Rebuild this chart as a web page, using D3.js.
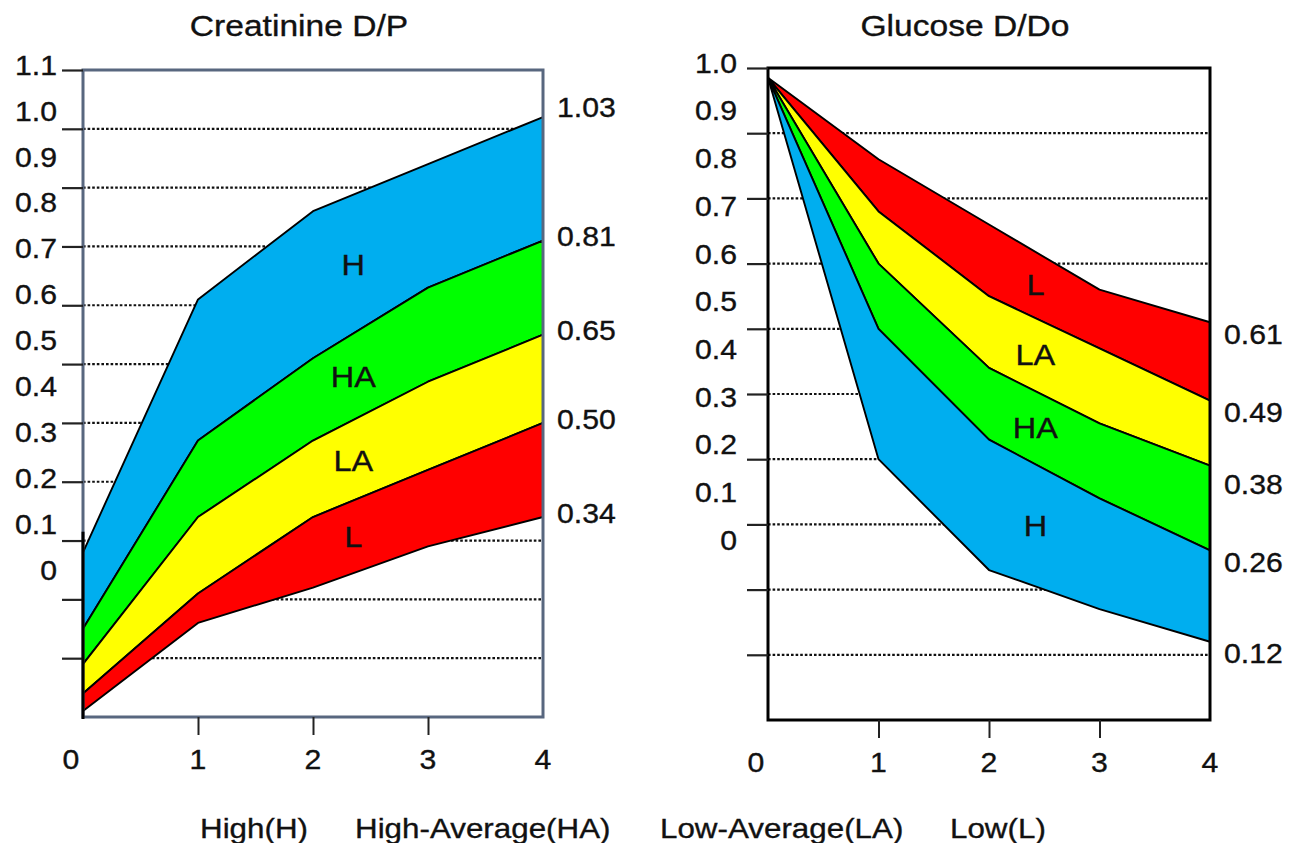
<!DOCTYPE html>
<html>
<head>
<meta charset="utf-8">
<script src="https://cdn.jsdelivr.net/npm/d3@7"></script>
<style>
  body { margin: 0; background: #fff; }
  text { font-family: "Liberation Sans", Arial, Helvetica, sans-serif; fill: #111; stroke: #111; stroke-width: 0.35px; }
</style>
</head>
<body>
<svg id="chart" width="1292" height="843"></svg>
<script>
// dwell time (hours)
const hours = [0, 1, 2, 3, 4];
const bandColors = {H: '#00aeef', HA: '#00ff00', LA: '#ffff00', L: '#ff0000'};

// Creatinine D/P, band edges from top to bottom
const creatMax  = [0.28, 0.71, 0.86, 0.94, 1.02];
const creatHHA  = [0.15, 0.47, 0.61, 0.73, 0.81];
const creatHALA = [0.09, 0.34, 0.47, 0.57, 0.65];
const creatLAL  = [0.04, 0.21, 0.34, 0.42, 0.50];
const creatMin  = [0.01, 0.16, 0.22, 0.29, 0.34];
const creatEndLabels = ['1.03', '0.81', '0.65', '0.50', '0.34'];
const creatTickLabels = ['0', '0.1', '0.2', '0.3', '0.4', '0.5', '0.6', '0.7', '0.8', '0.9', '1.0', '1.1'];

// Glucose D/Do, band edges from top to bottom
const glucMax  = [0.985, 0.86, 0.76, 0.66, 0.61];
const glucLLA  = [0.985, 0.78, 0.65, 0.57, 0.49];
const glucLAHA = [0.985, 0.70, 0.54, 0.455, 0.39];
const glucHAH  = [0.985, 0.60, 0.43, 0.34, 0.26];
const glucMin  = [0.985, 0.40, 0.23, 0.17, 0.12];
const glucEndLabels = ['0.61', '0.49', '0.38', '0.26', '0.12'];
const glucTickLabels = ['0', '0.1', '0.2', '0.3', '0.4', '0.5', '0.6', '0.7', '0.8', '0.9', '1.0'];

const legendItems = ['High(H)', 'High-Average(HA)', 'Low-Average(LA)', 'Low(L)'];

const svg = d3.select('#chart');
const STRETCH = 1.12; // source lettering is a bit wide

// value at fractional hour, linear between points
const interp = (arr, h) => {
  const i = Math.min(Math.floor(h), hours.length - 2);
  const t = h - i;
  return arr[i] + (arr[i + 1] - arr[i]) * t;
};

const place = (x, y) => `translate(${x},${y}) scale(${STRETCH},1)`;

function drawPanel(opts) {
  const {x, y, labelY, bands, title, titleX, frameColor, yTicks, tickLabels,
         labelX, endLabels, endDy, bandLabelHour} = opts;
  const g = svg.append('g');

  // dotted grid
  g.selectAll('.grid')
    .data(yTicks.filter(d => d > 0.05 && d < y.domain()[1] - 0.05))
    .enter().append('line')
    .attr('x1', x(0)).attr('x2', x(4))
    .attr('y1', d => y(d)).attr('y2', d => y(d))
    .style('stroke', '#111')
    .style('stroke-width', 2.2)
    .style('stroke-dasharray', '2.6,2');

  // bands
  const area = d3.area()
    .x(d => x(d.h))
    .y0(d => y(d.lo))
    .y1(d => y(d.hi));

  bands.forEach(b => {
    const pts = hours.map((h, i) => ({h: h, hi: b.hi[i], lo: b.lo[i]}));
    g.append('path')
      .datum(pts)
      .attr('d', area)
      .style('fill', bandColors[b.name])
      .style('stroke', '#000')
      .style('stroke-width', 1.9)
      .style('stroke-linejoin', 'round');
  });

  // frame
  g.append('rect')
    .attr('x', x(0)).attr('y', y(y.domain()[1]))
    .attr('width', x(4) - x(0))
    .attr('height', y(0) - y(y.domain()[1]))
    .style('fill', 'none')
    .style('stroke', frameColor)
    .style('stroke-width', 3);

  // y ticks
  const yAxis = g.append('g')
    .attr('transform', `translate(${x(0)},0)`)
    .call(d3.axisLeft(y).tickValues(yTicks.filter(d => d > 0)).tickSize(21).tickFormat(''));
  yAxis.select('.domain').remove();
  yAxis.selectAll('line').style('stroke', '#222').style('stroke-width', 2.2);

  // x ticks
  const xAxis = g.append('g')
    .attr('transform', `translate(0,${y(0)})`)
    .call(d3.axisBottom(x).tickValues([1, 2, 3]).tickSize(18).tickFormat(''));
  xAxis.select('.domain').remove();
  xAxis.selectAll('line').style('stroke', '#222').style('stroke-width', 2);

  // y tick labels (offset from their ticks, as in the source figure)
  g.selectAll('.ylab')
    .data(tickLabels)
    .enter().append('text')
    .attr('transform', d => place(labelX, labelY(+d)))
    .attr('dy', '0.36em')
    .attr('text-anchor', 'end')
    .style('font-size', '27px')
    .text(d => d);

  // x tick labels
  g.selectAll('.xlab')
    .data(hours)
    .enter().append('text')
    .attr('transform', d => place(x(d) + (d === 0 ? -12 : 0), y(0) + 42))
    .attr('dy', '0.36em')
    .attr('text-anchor', 'middle')
    .style('font-size', '27px')
    .text(d => d);

  // end value labels
  g.selectAll('.endlab')
    .data(endLabels)
    .enter().append('text')
    .attr('transform', d => place(x(4) + 14, y(+d) + endDy))
    .attr('dy', '0.36em')
    .style('font-size', '27px')
    .text(d => d);

  // band names
  bands.forEach(b => {
    const mid = (interp(b.hi, bandLabelHour) + interp(b.lo, bandLabelHour)) / 2;
    g.append('text')
      .attr('transform', place(x(bandLabelHour), y(mid)))
      .attr('dy', '0.36em')
      .attr('text-anchor', 'middle')
      .style('font-size', '29px')
      .text(b.name);
  });

  // title
  g.append('text')
    .attr('transform', place(titleX, 36))
    .attr('text-anchor', 'middle')
    .style('font-size', '30px')
    .text(title);

  return g;
}

// Creatinine panel
const xC = d3.scaleLinear().domain([0, 4]).range([83, 543]);
const yC = d3.scaleLinear().domain([0, 1.1]).range([717, 70]);
const gC = drawPanel({
  x: xC, y: yC,
  labelY: d3.scaleLinear().domain([0, 1.1]).range([570, 65]),
  bands: [
    {name: 'H', hi: creatMax, lo: creatHHA},
    {name: 'HA', hi: creatHHA, lo: creatHALA},
    {name: 'LA', hi: creatHALA, lo: creatLAL},
    {name: 'L', hi: creatLAL, lo: creatMin}
  ],
  title: 'Creatinine D/P', titleX: 299,
  frameColor: '#58677f',
  yTicks: d3.range(0, 1.15, 0.1).map(d => +d.toFixed(1)),
  tickLabels: creatTickLabels,
  labelX: 57,
  endLabels: creatEndLabels, endDy: -4,
  bandLabelHour: 2.35
});
// dark stroke on the lower part of the left axis
gC.append('line')
  .attr('x1', xC(0)).attr('x2', xC(0))
  .attr('y1', yC(0.315)).attr('y2', yC(0) + 2)
  .style('stroke', '#000').style('stroke-width', 3);

// Glucose panel
const xG = d3.scaleLinear().domain([0, 4]).range([768, 1210]);
const yG = d3.scaleLinear().domain([0, 1]).range([720, 68]);
drawPanel({
  x: xG, y: yG,
  labelY: d3.scaleLinear().domain([0, 1]).range([540, 63]),
  bands: [
    {name: 'L', hi: glucMax, lo: glucLLA},
    {name: 'LA', hi: glucLLA, lo: glucLAHA},
    {name: 'HA', hi: glucLAHA, lo: glucHAH},
    {name: 'H', hi: glucHAH, lo: glucMin}
  ],
  title: 'Glucose D/Do', titleX: 965,
  frameColor: '#000',
  yTicks: d3.range(0, 1.05, 0.1).map(d => +d.toFixed(1)),
  tickLabels: glucTickLabels,
  labelX: 737,
  endLabels: glucEndLabels, endDy: 12,
  bandLabelHour: 2.42
});

// legend (text only)
const legendStarts = [200, 355, 660, 950];
svg.selectAll('.legend')
  .data(legendItems)
  .enter().append('text')
  .attr('transform', (d, i) => place(legendStarts[i], 838))
  .style('font-size', '28px')
  .text(d => d);
</script>
</body>
</html>
